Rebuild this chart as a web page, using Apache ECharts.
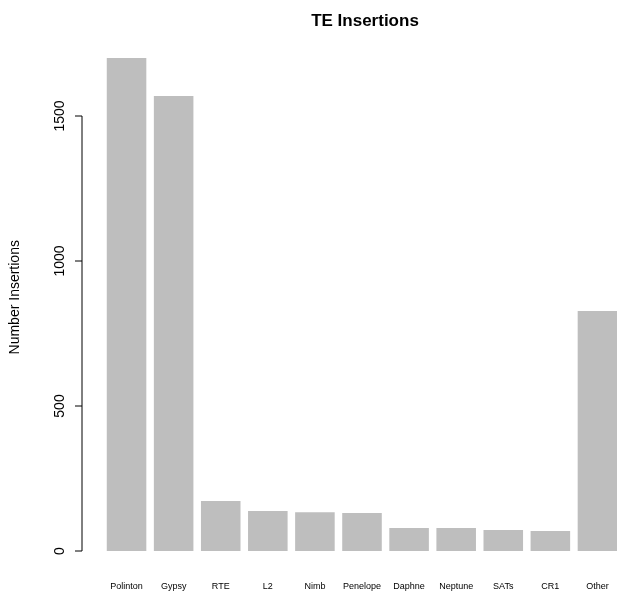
<!DOCTYPE html>
<html>
<head>
<meta charset="utf-8">
<style>
html, body { margin: 0; padding: 0; background: #fff; overflow: hidden; }
#chart { width: 640px; height: 593px; }
</style>
<script src="https://cdn.jsdelivr.net/npm/echarts@6/dist/echarts.min.js"></script>
</head>
<body>
<div id="chart"></div>
<script>
var categories = ['Polinton', 'Gypsy', 'RTE', 'L2', 'Nimb', 'Penelope', 'Daphne', 'Neptune', 'SATs', 'CR1', 'Other'];
var insertions = [1700, 1569, 172, 138, 134, 131, 79, 79, 72, 69, 828];
var yTicks = [0, 500, 1000, 1500];

var chart = echarts.init(document.getElementById('chart'));
var font = 'Liberation Sans, Arial, sans-serif';

chart.setOption({
	animation: false,
	title: {
		text: 'TE Insertions',
		left: 360, top: 8, textAlign: 'center',
		textStyle: { fontFamily: font, fontSize: 17, fontWeight: 'bold', color: '#000' }
	},
	grid: { left: 98, width: 523, top: 43.5, bottom: 42 },
	xAxis: {
		type: 'category',
		data: categories,
		axisLine: { show: false },
		axisTick: { show: false },
		axisLabel: { margin: 31, fontFamily: font, fontSize: 9, color: '#000', interval: 0 }
	},
	yAxis: {
		type: 'value',
		min: 0, max: 1750, interval: 500,
		offset: 16,
		splitLine: { show: false },
		axisLine: { show: false },
		axisTick: { show: false },
		axisLabel: { show: false },
		name: 'Number Insertions',
		nameLocation: 'middle',
		nameGap: 65,
		nameTextStyle: { fontFamily: font, fontSize: 14, color: '#000' }
	},
	series: [{
		type: 'bar',
		data: insertions,
		barCategoryGap: '16%',
		itemStyle: { color: '#bebebe' }
	}]
});

// R-style y axis: line from first to last tick, ticks outward, rotated labels
var axX = 82, elements = [];
var yTop = chart.convertToPixel({ yAxisIndex: 0 }, yTicks[yTicks.length - 1]);
var yBot = chart.convertToPixel({ yAxisIndex: 0 }, yTicks[0]);
elements.push({ type: 'line', shape: { x1: axX, y1: yTop, x2: axX, y2: yBot }, style: { stroke: '#000', lineWidth: 1 } });
yTicks.forEach(function (t) {
	var y = chart.convertToPixel({ yAxisIndex: 0 }, t);
	elements.push({ type: 'line', shape: { x1: axX - 7, y1: y, x2: axX, y2: y }, style: { stroke: '#000', lineWidth: 1 } });
	elements.push({
		type: 'text', x: 60, y: y, rotation: Math.PI / 2,
		style: { text: String(t), fontFamily: font, fontSize: 14, fill: '#000', align: 'center', verticalAlign: 'middle' }
	});
});
chart.setOption({ graphic: elements });
</script>
</body>
</html>
